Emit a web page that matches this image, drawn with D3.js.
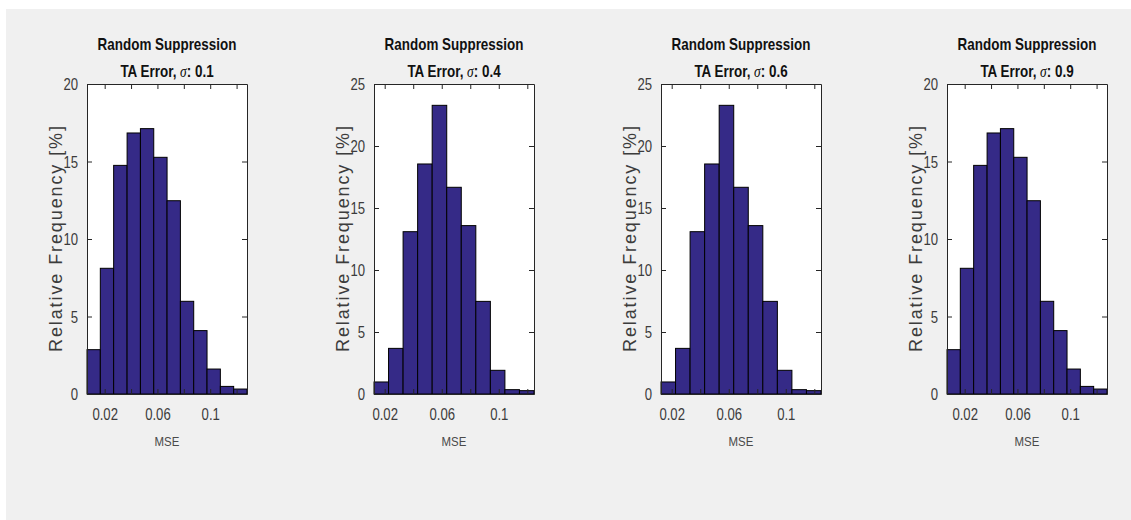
<!DOCTYPE html>
<head>
	<meta charset="UTF-8">
	<script src="https://d3js.org/d3.v7.min.js"></script>
	<title>Random Suppression - TA Error histograms</title>
<style>
	body{ margin: 0; background-color: #ffffff; }
	svg{ display: block; }
	text{ font-family: 'Liberation Sans', Arial, sans-serif; }
</style>
</head>
<body>
	<svg width="1131" height="520"></svg>
</body>

<script>
	// Data
	var sigmas = ["0.1", "0.4", "0.6", "0.9"];

	// bin edges (MSE) for the wide and narrow histograms
	var edgesWide = [0.0066, 0.0167, 0.0268, 0.0370, 0.0471, 0.0572, 0.0673, 0.0774, 0.0875, 0.0976, 0.1077, 0.1178, 0.1279];
	var edgesNarrow = [0.0125, 0.0227, 0.0329, 0.0431, 0.0533, 0.0635, 0.0737, 0.0839, 0.0941, 0.1043, 0.1145, 0.1247];

	// relative frequency [%] per bin
	var freqWide = [2.86, 8.11, 14.75, 16.84, 17.12, 15.27, 12.47, 5.98, 4.09, 1.61, 0.49, 0.32];
	var freqNarrow = [0.97, 3.68, 13.09, 18.55, 23.28, 16.67, 13.58, 7.47, 1.91, 0.35, 0.27];

	var panelEdges = [edgesWide, edgesNarrow, edgesNarrow, edgesWide];
	var panelFreq = [freqWide, freqNarrow, freqNarrow, freqWide];
	var yMax = [20, 25, 25, 20];

	var xTicks = [0.02, 0.04, 0.06, 0.08, 0.1, 0.12];
	var xTickLabels = ["0.02", "", "0.06", "", "0.1", ""];

	// Layout
	var panelLeft = [87, 374, 661, 947];
	var plotW = 160, plotTop = 84, plotH = 310;
	var barColor = "rgb(53,42,135)";
	var axisColor = "#262626";

	var svg = d3.select("svg");

	// squeeze text horizontally (the original font is a narrow Helvetica)
	function narrow(sel, factor){
		sel.each(function(){
			var w = this.getComputedTextLength();
			if(w > 0){
				d3.select(this)
					.attr("textLength", w * factor)
					.attr("lengthAdjust", "spacingAndGlyphs");
			}
		});
	}

	// figure background
	svg.append("rect")
		.attr("x", 6).attr("y", 9)
		.attr("width", 1131 - 6).attr("height", 520 - 9)
		.attr("fill", "#f0f0f0");

	sigmas.forEach(function(sigma, p){
		var edges = panelEdges[p];
		var freq = panelFreq[p];
		var bins = freq.map(function(f, i){ return {x0: edges[i], x1: edges[i+1], f: f}; });

		var x = d3.scaleLinear()
			.domain([edges[0], edges[edges.length-1]])
			.range([0, plotW]);
		var y = d3.scaleLinear()
			.domain([0, yMax[p]])
			.range([plotH, 0]);

		var g = svg.append("g")
			.attr("transform", "translate(" + panelLeft[p] + "," + plotTop + ")");

		// axes background
		g.append("rect")
			.attr("width", plotW).attr("height", plotH)
			.attr("fill", "#ffffff");

		// bars
		g.selectAll("rect.bar")
			.data(bins).enter()
			.append("rect")
			.attr("class", "bar")
			.attr("x", function(d){ return x(d.x0); })
			.attr("y", function(d){ return y(d.f); })
			.attr("width", function(d){ return x(d.x1) - x(d.x0); })
			.attr("height", function(d){ return plotH - y(d.f); })
			.attr("fill", barColor)
			.attr("stroke", "#000000")
			.attr("stroke-width", 1);

		// axes, ticks pointing inward
		var yTicks = d3.range(0, yMax[p] + 1, 5);

		var left = g.append("g")
			.call(d3.axisLeft(y).tickValues(yTicks).tickSizeInner(-5).tickSizeOuter(0).tickPadding(9));
		var right = g.append("g")
			.attr("transform", "translate(" + plotW + ",0)")
			.call(d3.axisRight(y).tickValues(yTicks).tickSizeInner(-5).tickSizeOuter(0).tickFormat(""));
		var bottom = g.append("g")
			.attr("transform", "translate(0," + plotH + ")")
			.call(d3.axisBottom(x).tickValues(xTicks).tickSizeInner(-5).tickSizeOuter(0).tickPadding(15)
				.tickFormat(function(d, i){ return xTickLabels[i]; }));
		var top = g.append("g")
			.call(d3.axisTop(x).tickValues(xTicks).tickSizeInner(-5).tickSizeOuter(0).tickFormat(""));

		[left, right, bottom, top].forEach(function(a){
			a.select(".domain").attr("stroke", axisColor);
			a.selectAll(".tick line").attr("stroke", axisColor);
			a.selectAll("text")
				.attr("fill", "#3c3c3c")
				.attr("font-size", "16px")
				.attr("font-family", "'Liberation Sans', Arial, sans-serif");
		});
		left.selectAll("text").attr("dy", "0.35em");
		narrow(left.selectAll("text"), 0.82);
		narrow(bottom.selectAll("text"), 0.82);

		// axis labels
		g.append("text")
			.attr("transform", "translate(-31," + (plotH/2) + ") rotate(-90)")
			.attr("text-anchor", "middle")
			.attr("dominant-baseline", "central")
			.attr("font-size", "18px")
			.attr("fill", "#3c3c3c")
			.attr("textLength", 226)
			.attr("lengthAdjust", "spacing")
			.text("Relative Frequency [%]");

		var xl = g.append("text")
			.attr("x", plotW/2)
			.attr("y", plotH + 47)
			.attr("text-anchor", "middle")
			.attr("dominant-baseline", "central")
			.attr("font-size", "13px")
			.attr("fill", "#4a4a4a")
			.text("MSE");
		narrow(xl, 0.88);

		// titles, squeezed with a horizontal scale
		var t1 = g.append("g")
			.attr("transform", "translate(" + (plotW/2) + "," + (45 - plotTop) + ") scale(0.84,1)")
			.append("text")
			.attr("text-anchor", "middle")
			.attr("dominant-baseline", "central")
			.attr("font-size", "16px")
			.attr("font-weight", "bold")
			.attr("fill", "#111111")
			.text("Random Suppression");

		var t2 = g.append("g")
			.attr("transform", "translate(" + (plotW/2) + "," + (72 - plotTop) + ") scale(0.84,1)")
			.append("text")
			.attr("text-anchor", "middle")
			.attr("dominant-baseline", "central")
			.attr("font-size", "16px")
			.attr("font-weight", "bold")
			.attr("fill", "#111111");
		t2.append("tspan").text("TA Error, ");
		t2.append("tspan")
			.attr("font-family", "'Liberation Serif', 'DejaVu Serif', serif")
			.attr("font-style", "italic")
			.attr("font-weight", "normal")
			.text("σ");
		t2.append("tspan").text(": " + sigma);
	});
</script>
